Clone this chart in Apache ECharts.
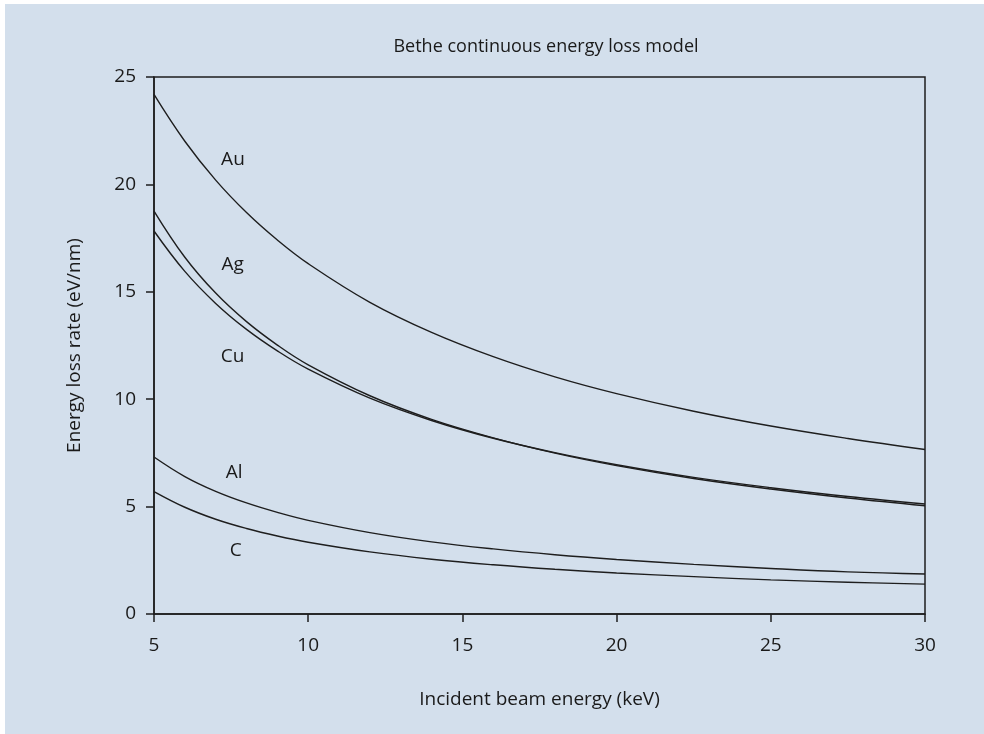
<!DOCTYPE html>
<html>
<head>
<meta charset="utf-8">
<script src="https://cdn.jsdelivr.net/npm/echarts@6/dist/echarts.min.js"></script>
<style>
  html, body { margin: 0; padding: 0; background: #ffffff; }
  #chart { width: 984px; height: 734px; }
</style>
</head>
<body>
<div id="chart"></div>
<script>
// Incident beam energy (keV)
const energies = [5, 6, 7, 8, 9, 10, 12, 14, 16, 18, 20, 22.5, 25, 27.5, 30];

// Energy loss rate (eV/nm) for each element
const au = [24.19, 22.01, 20.20, 18.69, 17.41, 16.31, 14.51, 13.11, 11.98, 11.04, 10.26, 9.44, 8.75, 8.17, 7.66];
const cu = [18.76, 16.61, 14.94, 13.61, 12.52, 11.60, 10.16, 9.06, 8.20, 7.49, 6.91, 6.31, 5.82, 5.40, 5.04];
const ag = [17.83, 15.95, 14.46, 13.25, 12.25, 11.40, 10.05, 9.01, 8.18, 7.51, 6.95, 6.36, 5.88, 5.47, 5.12];
const al = [7.31, 6.40, 5.71, 5.17, 4.73, 4.36, 3.79, 3.36, 3.03, 2.76, 2.54, 2.31, 2.12, 1.96, 1.86];
const carbon = [5.70, 4.97, 4.41, 3.98, 3.63, 3.34, 2.89, 2.55, 2.29, 2.08, 1.91, 1.74, 1.59, 1.48, 1.39];

// Curve labels: [text, energy, rate]
const curveLabels = [
  ['Au', 7.56, 21.17],
  ['Ag', 7.55, 16.26],
  ['Cu', 7.55, 12.0],
  ['Al', 7.6, 6.6],
  ['C', 7.65, 2.95]
];

const xTicks = [5, 10, 15, 20, 25, 30];
const yTicks = [0, 5, 10, 15, 20, 25];

const ink = '#1e1e1e';
const textInk = '#1a1a1a';
const font = '"Open Sans", "Noto Sans", sans-serif';

function pairs(ys) {
  return energies.map((x, i) => [x, ys[i]]);
}

function lineSeries(name, ys) {
  return {
    name: name,
    type: 'line',
    data: pairs(ys),
    smooth: 0.4,
    showSymbol: false,
    silent: true,
    lineStyle: { color: ink, width: 1.4 },
    z: 3
  };
}

const chart = echarts.init(document.getElementById('chart'), null, { renderer: 'canvas' });

chart.setOption({
  backgroundColor: '#ffffff',
  animation: false,
  graphic: [{
    type: 'rect',
    shape: { x: 5, y: 4, width: 979, height: 730 },
    style: { fill: '#d3dfec' },
    z: -10
  }],
  title: {
    text: 'Bethe continuous energy loss model',
    left: 541,
    top: 33,
    textAlign: 'center',
    textStyle: { fontFamily: font, fontSize: 18, fontWeight: 'normal', color: textInk }
  },
  grid: {
    left: 154, right: 59, top: 77, bottom: 120,
    show: true, borderColor: ink, borderWidth: 1.5, backgroundColor: 'transparent'
  },
  xAxis: {
    type: 'value',
    min: xTicks[0],
    max: xTicks[xTicks.length - 1],
    interval: 5,
    name: 'Incident beam energy (keV)',
    nameLocation: 'middle',
    nameGap: 76,
    nameTextStyle: { fontFamily: font, fontSize: 19, color: textInk },
    axisLine: { lineStyle: { color: ink, width: 1.5 } },
    axisTick: { show: true, inside: false, length: 8, lineStyle: { color: ink, width: 1.5 } },
    axisLabel: {
      fontFamily: font, fontSize: 19, color: textInk, margin: 22,
      formatter: v => xTicks.includes(v) ? String(v) : ''
    },
    splitLine: { show: false }
  },
  yAxis: {
    type: 'value',
    min: yTicks[0],
    max: yTicks[yTicks.length - 1],
    interval: 5,
    name: 'Energy loss rate (eV/nm)',
    nameLocation: 'middle',
    nameGap: 70,
    nameRotate: 90,
    nameTextStyle: { fontFamily: font, fontSize: 19, color: textInk },
    axisLine: { show: true, lineStyle: { color: ink, width: 1.5 } },
    axisTick: { show: true, inside: false, length: 8, lineStyle: { color: ink, width: 1.5 } },
    axisLabel: {
      fontFamily: font, fontSize: 19, color: textInk, margin: 18,
      formatter: v => yTicks.includes(v) ? String(v) : ''
    },
    splitLine: { show: false }
  },
  series: [
    lineSeries('Au', au),
    lineSeries('Cu', cu),
    lineSeries('Ag', ag),
    lineSeries('Al', al),
    lineSeries('C', carbon),
    {
      name: 'labels',
      type: 'scatter',
      silent: true,
      symbolSize: 0,
      itemStyle: { opacity: 1 },
      data: curveLabels.map(d => ({ value: [d[1], d[2]], name: d[0] })),
      label: {
        show: true,
        position: 'inside',
        formatter: p => p.name,
        fontFamily: font,
        fontSize: 19,
        color: textInk,
        textBorderWidth: 0
      },
      z: 4
    }
  ]
});
</script>
</body>
</html>
